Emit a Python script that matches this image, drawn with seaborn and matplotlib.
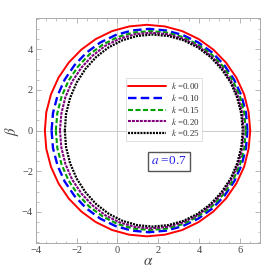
import numpy as np
import pandas as pd
import matplotlib
matplotlib.use("Agg")
import matplotlib.pyplot as plt
import seaborn as sns
from matplotlib.lines import Line2D
from matplotlib.ticker import MultipleLocator

# =========================
# DATA (upper half of each shadow)
# =========================

k_values = ["0.00", "0.10", "0.15", "0.20", "0.25"]

alpha_k000 = [-3.56, -3.49, -3.26, -2.89, -2.39, -1.77, -1.06, -0.26, 0.58, 1.45,
              2.33, 3.18, 3.99, 4.71, 5.33, 5.84, 6.22, 6.44, 6.52]
beta_k000 = [0.00, 0.90, 1.78, 2.60, 3.34, 3.98, 4.50, 4.89, 5.12, 5.20,
             5.12, 4.89, 4.50, 3.98, 3.34, 2.60, 1.78, 0.90, 0.00]

alpha_k010 = [-3.23, -3.16, -2.94, -2.59, -2.11, -1.52, -0.84, -0.08, 0.72, 1.55,
              2.39, 3.20, 3.97, 4.66, 5.25, 5.73, 6.09, 6.31, 6.38]
beta_k010 = [0.00, 0.87, 1.71, 2.50, 3.21, 3.83, 4.33, 4.70, 4.92, 5.00,
             4.92, 4.70, 4.33, 3.83, 3.21, 2.50, 1.71, 0.87, 0.00]

alpha_k015 = [-3.02, -2.95, -2.74, -2.40, -1.94, -1.37, -0.71, 0.02, 0.80, 1.60,
              2.42, 3.21, 3.95, 4.62, 5.20, 5.67, 6.02, 6.23, 6.30]
beta_k015 = [0.00, 0.85, 1.67, 2.45, 3.14, 3.75, 4.23, 4.60, 4.82, 4.89,
             4.82, 4.60, 4.23, 3.75, 3.14, 2.45, 1.67, 0.85, 0.00]

alpha_k020 = [-2.82, -2.75, -2.55, -2.22, -1.77, -1.22, -0.59, 0.12, 0.87, 1.65,
              2.44, 3.21, 3.93, 4.58, 5.14, 5.59, 5.93, 6.13, 6.20]
beta_k020 = [0.00, 0.84, 1.65, 2.41, 3.09, 3.68, 4.17, 4.52, 4.74, 4.81,
             4.74, 4.52, 4.17, 3.68, 3.09, 2.41, 1.65, 0.84, 0.00]

alpha_k025 = [-2.58, -2.52, -2.32, -2.00, -1.57, -1.04, -0.43, 0.25, 0.97, 1.72,
              2.49, 3.24, 3.94, 4.57, 5.11, 5.56, 5.88, 6.08, 6.15]
beta_k025 = [0.00, 0.82, 1.61, 2.36, 3.03, 3.62, 4.09, 4.44, 4.65, 4.72,
             4.65, 4.44, 4.09, 3.62, 3.03, 2.36, 1.61, 0.82, 0.00]

alphas = [alpha_k000, alpha_k010, alpha_k015, alpha_k020, alpha_k025]
betas = [beta_k000, beta_k010, beta_k015, beta_k020, beta_k025]

# =========================
# STYLE
# =========================

colors = ["#ff0000", "#0000ff", "#00a000", "#800080", "#000000"]
widths = [1.4, 1.7, 1.5, 1.5, 1.6]
dashes = ["-", (0, (3.6, 1.8)), (0, (2.4, 1.2)), (0, (1.4, 0.5)), (0, (0.9, 0.5))]

sns.set_theme(style="ticks")
plt.rcParams["font.family"] = ["Liberation Serif", "DejaVu Serif"]
plt.rcParams["mathtext.fontset"] = "stix"

fig = plt.figure(figsize=(2.74, 2.74), dpi=100)
ax = fig.add_axes([0.131, 0.113, 0.818, 0.821])

ax.axhline(0, color="#cccccc", lw=0.7, zorder=0)
ax.axvline(0, color="#cccccc", lw=0.7, zorder=0)

# =========================
# CURVES
# =========================

for i, k in enumerate(k_values):
    a = np.array(alphas[i])
    b = np.array(betas[i])
    d = pd.DataFrame({
        "alpha": np.concatenate([a, a]),
        "beta": np.concatenate([b, -b]),
        "half": ["up"] * len(a) + ["down"] * len(a),
    })
    sns.lineplot(
        data=d, x="alpha", y="beta", units="half", estimator=None, sort=False,
        color=colors[i], lw=widths[i], linestyle=dashes[i], ax=ax
    )

handles = [
    Line2D([], [], color=colors[i], lw=widths[i], linestyle=dashes[i])
    for i in range(len(k_values))
]
labels = [r"$k$ =" + k for k in k_values]
leg = ax.legend(
    handles, labels, loc="upper left", bbox_to_anchor=(0.40, 0.735),
    fontsize=6.5, handlelength=4.2, handletextpad=0.5, labelspacing=0.08,
    borderpad=0.3, frameon=True, fancybox=False, borderaxespad=0
)
leg.get_frame().set_edgecolor("#d0d0d0")
leg.get_frame().set_linewidth(0.6)
for t in leg.get_texts():
    t.set_color("#333333")

ax.text(
    2.52, -1.52, r"$a$ =0.7", color="#2020e0", fontsize=9.5,
    ha="center", va="center",
    bbox=dict(boxstyle="square,pad=0.25", fc="white", ec="#555555", lw=1.0)
)

# =========================
# AXES
# =========================

ax.set_xlim(-4, 7)
ax.set_ylim(-5.53, 5.53)
ax.xaxis.set_major_locator(MultipleLocator(2))
ax.xaxis.set_minor_locator(MultipleLocator(0.5))
ax.yaxis.set_major_locator(MultipleLocator(2))
ax.yaxis.set_minor_locator(MultipleLocator(0.5))

ax.tick_params(which="both", direction="in", top=True, right=True,
               color="#aaaaaa", labelcolor="#444444", labelsize=7.5, pad=2)
ax.tick_params(which="major", length=3.5, width=0.6)
ax.tick_params(which="minor", length=1.8, width=0.5)
for s in ax.spines.values():
    s.set_color("#aaaaaa")
    s.set_linewidth(0.7)

ax.set_xlabel(r"$\alpha$", fontsize=11, color="#444444", labelpad=0)
ax.set_ylabel(r"$\beta$", fontsize=10.5, color="#444444", labelpad=1, rotation=90)

fig.savefig("out.png", dpi=100)
